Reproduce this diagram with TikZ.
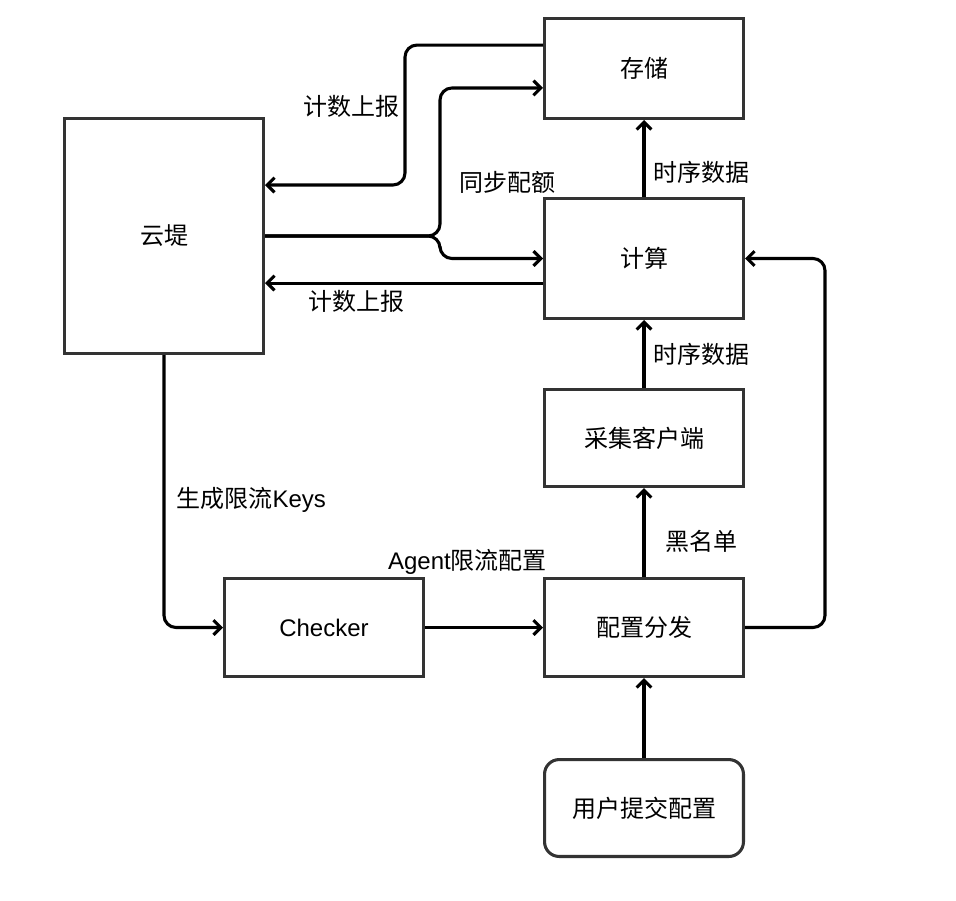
\documentclass[tikz,border=0pt]{standalone}
\usepackage{fontspec}
\setmainfont{Noto Sans CJK SC}
\newfontfamily\latinfont{Liberation Sans}
\usetikzlibrary{arrows.meta,positioning}

\begin{document}
\begin{tikzpicture}[
    x = 0.75pt, y = -0.75pt, % pixel grid of the picture
    > = {Straight Barb[length=5.5pt,width=11pt]}, % arrow head style
    line width = 2.3pt, % line style
    font = \fontsize{18}{21}\selectfont
    ]

    \tikzset{box/.style={
    draw = black!80,
    fill = white,
    minimum width = 149.2pt,
    minimum height = 72.7pt
    }}
    \useasboundingbox (0,0) rectangle (956,900);

    \node[box, minimum height = 89.95pt] (jisuan) at (644,258.5) {计算};
    \node[box, minimum height = 74.95pt] (cunchu) [above=57.75pt of jisuan] {存储};
    \node[box] (caiji) [below=51pt of jisuan] {采集客户端};
    \node[box, minimum height = 73.45pt] (peizhi) [below=66.75pt of caiji] {配置分发};
    \node[box, rounded corners = 11pt] (yonghu) [below=60pt of peizhi] {用户提交配置};
    \node[box, minimum height = 73.45pt] (checker) [left=88.5pt of peizhi] {\latinfont Checker};
    \node[box, minimum height = 176.2pt] (yunti) at (164,236) {云堤};

    % elbow connectors
    \draw[->, rounded corners = 9pt] ([yshift=17.6pt]cunchu.west) -- ++(-103.5pt,0)
        |- node[pos=0.22, left]{计数上报} ([yshift=38.25pt]yunti.east);
    \draw[->, rounded corners = 9pt] (yunti.east) -- ++(131.25pt,0)
        |- node[pos=0.18, right=10pt]{同步配额} ([yshift=-14.6pt]cunchu.west);
    \draw[->, rounded corners = 9pt] (yunti.east) -- ++(131.25pt,0) |- (jisuan.west);
    \draw[->] ([yshift=-18.4pt]jisuan.west) coordinate (jb)
        -- node[pos=0.67, below=1pt]{计数上报} (jb -| yunti.east);
    \draw[->, rounded corners = 9pt] (peizhi.east) -- ++(60pt,0) |- (jisuan.east);
    \draw[->, rounded corners = 9pt] (yunti.south)
        |- node[pos=0.265, right=5pt]{生成限流{\latinfont Keys}} (checker.west);

    % straight connectors
    \path[->] (jisuan) edge node[pos=0.32, right=2.5pt]{时序数据} (cunchu);
    \path[->] (caiji) edge node[right=2.5pt]{时序数据} (jisuan);
    \path[->] (peizhi) edge node[pos=0.4, right=11.5pt]{黑名单} (caiji);
    \path[->] (yonghu) edge (peizhi);
    \path[->] (checker) edge node[pos=0.36, yshift=49.5pt]{{\latinfont Agent}限流配置} (peizhi);
\end{tikzpicture}
\end{document}
